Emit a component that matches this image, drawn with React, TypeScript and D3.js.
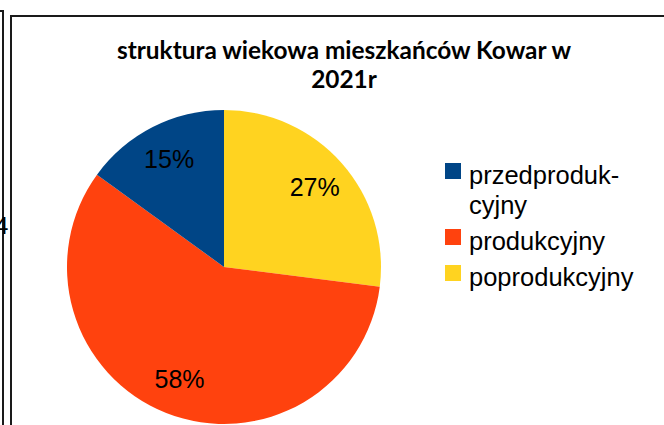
import React from "react";
import * as d3 from "d3";

const categories = ["poprodukcyjny", "produkcyjny", "przedprodukcyjny"];
const values = [27, 58, 15];
const colors = ["#ffd320", "#ff420e", "#004586"];
const legendOrder = ["przedprodukcyjny", "produkcyjny", "poprodukcyjny"];
const legendLines: Record<string, string[]> = {
  przedprodukcyjny: ["przedproduk-", "cyjny"],
  produkcyjny: ["produkcyjny"],
  poprodukcyjny: ["poprodukcyjny"],
};
const titleLines = ["struktura wiekowa mieszkańców Kowar w", "2021r"];

export default function App() {
  const W = 664, H = 425;
  const cx = 224, cy = 267, r = 157;
  const pie = d3.pie<number>().sort(null).value((d) => d);
  const arcs = pie(values);
  const arc = d3.arc<d3.PieArcDatum<number>>().innerRadius(0).outerRadius(r);
  const labelArc = d3.arc<d3.PieArcDatum<number>>().innerRadius(r * 0.77).outerRadius(r * 0.77);
  const color = d3.scaleOrdinal<string, string>().domain(categories).range(colors);
  const total = d3.sum(values);
  const font = "'Liberation Sans', Arial, sans-serif";

  let y = 184;
  const legendItems = legendOrder.map((c) => {
    const lines = legendLines[c];
    const baseY = y;
    y += (lines.length - 1) * 30 + 36;
    return { c, lines, baseY };
  });

  return (
    <svg width={W} height={H} style={{ position: "absolute", left: 0, top: 0 }}>
      <rect x={0} y={0} width={W} height={H} fill="#fff" />
      <path d="M0,11 H3 V425" fill="none" stroke="#1a1a1a" strokeWidth={2} />
      <path d="M11,425 V16 H664" fill="none" stroke="#1a1a1a" strokeWidth={2} />
      <text x={-5} y={234} fontFamily={font} fontSize={24} fill="#000">4</text>
      <g fontFamily="Lato, 'Open Sans', sans-serif" fontWeight="bold" fontSize={24.4} textAnchor="middle" fill="#000">
        {titleLines.map((t, i) => (
          <text key={i} x={344} y={59 + i * 29}>{t}</text>
        ))}
      </g>
      <g transform={`translate(${cx},${cy})`}>
        {arcs.map((a, i) => (
          <path key={i} d={arc(a) || ""} fill={color(categories[i])} />
        ))}
        {arcs.map((a, i) => {
          const [lx, ly] = labelArc.centroid(a);
          return (
            <text key={"l" + i} x={lx} y={ly} dy="0.35em" textAnchor="middle" fontFamily={font} fontSize={25} fill="#000">
              {Math.round((values[i] / total) * 100)}%
            </text>
          );
        })}
      </g>
      <g fontFamily={font} fontSize={25.5} fill="#000">
        {legendItems.map((it) => (
          <g key={it.c}>
            <rect x={445} y={it.baseY - 21} width={16} height={16} fill={color(it.c)} />
            {it.lines.map((l, j) => (
              <text key={j} x={469} y={it.baseY + j * 30}>{l}</text>
            ))}
          </g>
        ))}
      </g>
    </svg>
  );
}
